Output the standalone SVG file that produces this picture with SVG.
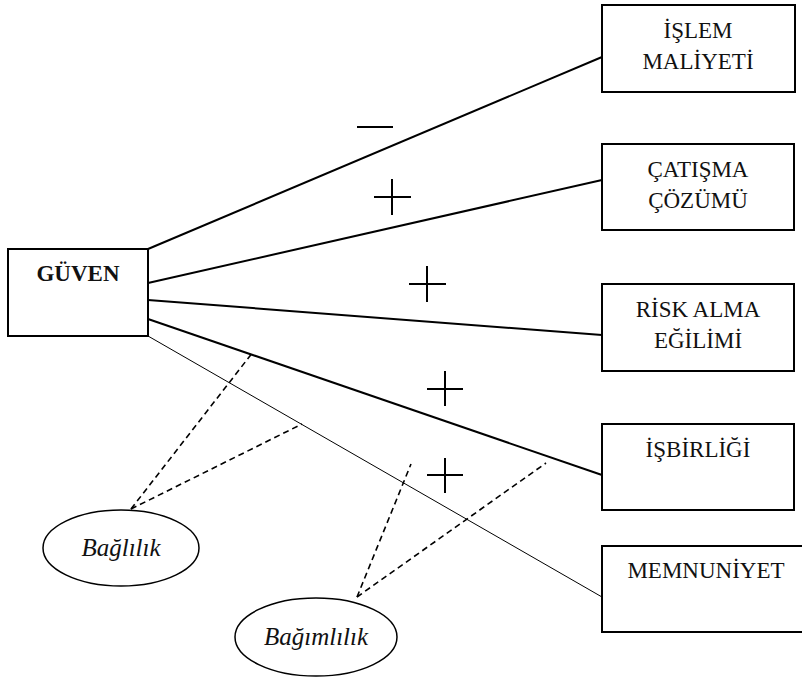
<svg xmlns="http://www.w3.org/2000/svg" width="802" height="686" viewBox="0 0 802 686">
<style>
.box{fill:#fff;stroke:#000;stroke-width:2}
.ell{fill:#fff;stroke:#000;stroke-width:1.5}
.t{font-family:"Liberation Serif","DejaVu Serif",serif;font-size:23px;fill:#111;text-anchor:middle}
.b{font-weight:bold}
.i{font-style:italic;font-size:25px}
.ln{stroke:#000;stroke-width:2;fill:none}
.thin{stroke:#000;stroke-width:1;fill:none}
.dash{stroke:#000;stroke-width:1.6;stroke-dasharray:6 4;fill:none}
.sg{stroke:#000;stroke-width:2;fill:none}
</style>
<rect width="802" height="686" fill="#fff"/>
<g id="connectors">
<line class="ln" x1="148" y1="249" x2="602" y2="57"/>
<line class="ln" x1="148" y1="283" x2="602" y2="180"/>
<line class="ln" x1="148" y1="300" x2="602" y2="335"/>
<line class="ln" x1="148" y1="319" x2="602" y2="475"/>
<line class="thin" x1="148" y1="336" x2="602" y2="597"/>
<line class="dash" x1="131" y1="509" x2="253" y2="352"/>
<line class="dash" x1="131" y1="509" x2="302" y2="424"/>
<line class="dash" x1="357" y1="597" x2="411" y2="464"/>
<line class="dash" x1="357" y1="597" x2="546" y2="463"/>
</g>
<g id="signs">
<line class="sg" x1="357" y1="127" x2="393" y2="127"/>
<line class="sg" x1="374" y1="197" x2="411" y2="197"/>
<line class="sg" x1="392" y1="179" x2="392" y2="215"/>
<line class="sg" x1="409" y1="284" x2="446" y2="284"/>
<line class="sg" x1="427" y1="266" x2="427" y2="302"/>
<line class="sg" x1="427" y1="389" x2="463" y2="389"/>
<line class="sg" x1="445" y1="371" x2="445" y2="406"/>
<line class="sg" x1="427" y1="475" x2="463" y2="475"/>
<line class="sg" x1="445" y1="458" x2="445" y2="493"/>
</g>
<g id="guven">
<rect class="box" x="8" y="249" width="140" height="87"/>
<text class="t b" x="78" y="281">GÜVEN</text>
</g>
<g id="islem">
<rect class="box" x="602" y="5" width="193" height="87"/>
<text class="t" x="698" y="38">İŞLEM</text>
<text class="t" x="698" y="69">MALİYETİ</text>
</g>
<g id="catisma">
<rect class="box" x="602" y="144" width="192" height="86"/>
<text class="t" x="698" y="177">ÇATIŞMA</text>
<text class="t" x="698" y="208">ÇÖZÜMÜ</text>
</g>
<g id="risk">
<rect class="box" x="602" y="284" width="192" height="87"/>
<text class="t" x="698" y="317">RİSK ALMA</text>
<text class="t" x="698" y="348">EĞİLİMİ</text>
</g>
<g id="isbirligi">
<rect class="box" x="602" y="424" width="192" height="86"/>
<text class="t" x="698" y="457">İŞBİRLİĞİ</text>
</g>
<g id="memnuniyet">
<rect class="box" x="602" y="546" width="210" height="86"/>
<text class="t" x="706" y="578">MEMNUNİYET</text>
</g>
<g id="baglilik">
<ellipse class="ell" cx="121" cy="548" rx="78" ry="38"/>
<text class="t i" x="121" y="556">Bağlılık</text>
</g>
<g id="bagimlilik">
<ellipse class="ell" cx="316" cy="637" rx="81" ry="39"/>
<text class="t i" x="316" y="645">Bağımlılık</text>
</g>
</svg>
